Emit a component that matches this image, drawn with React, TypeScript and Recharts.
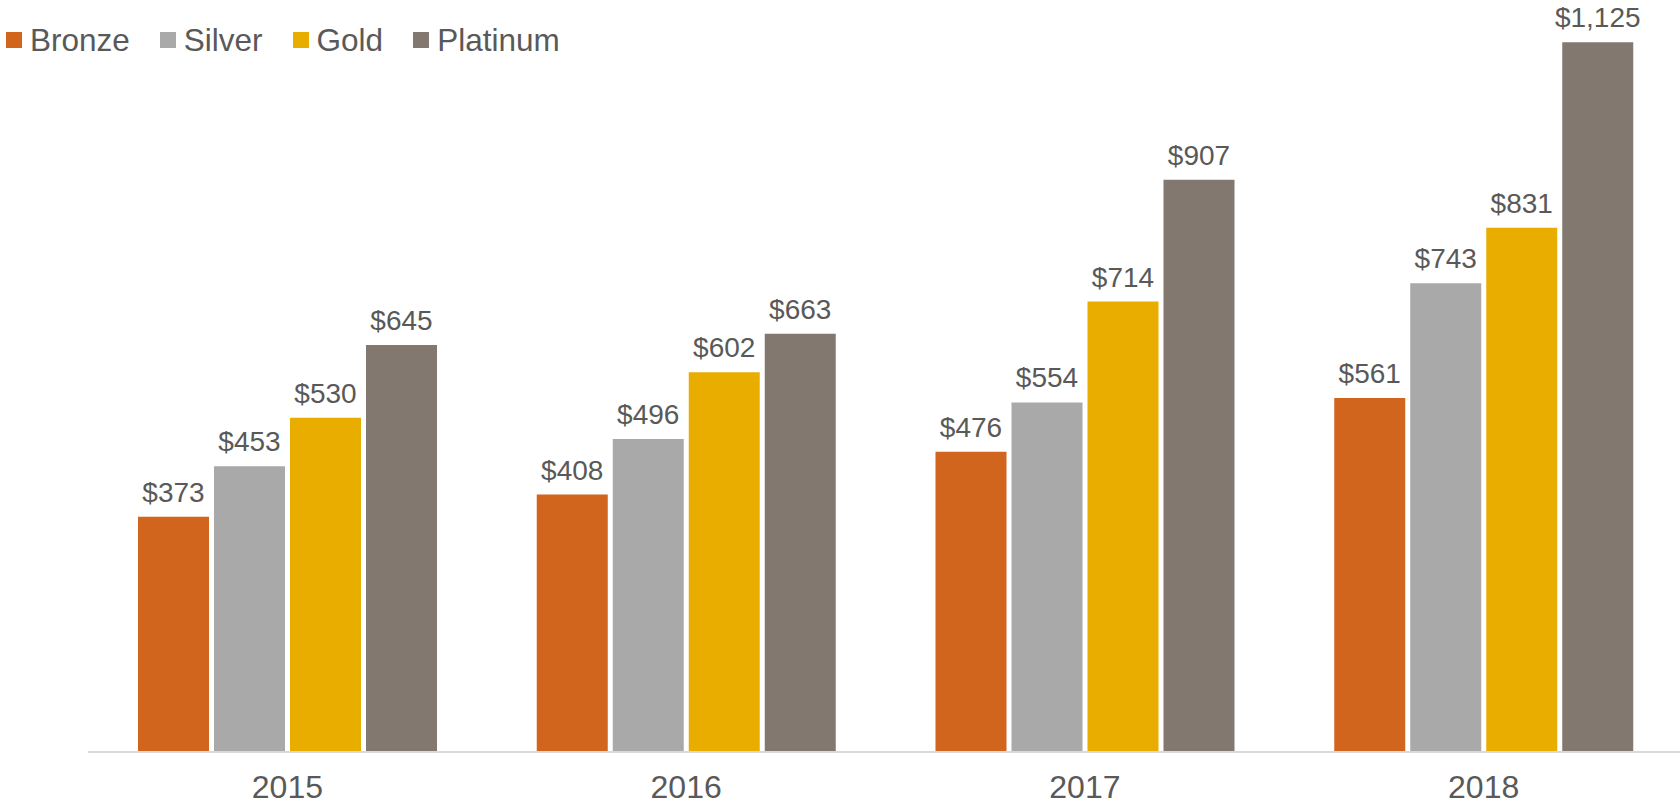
import React from "react"
import { BarChart, Bar, XAxis, YAxis, Legend, LabelList } from "recharts"

const years = ["2015", "2016", "2017", "2018"]
const bronze = [373, 408, 476, 561]
const silver = [453, 496, 554, 743]
const gold = [530, 602, 714, 831]
const platinum = [645, 663, 907, 1125]

const seriesNames = ["Bronze", "Silver", "Gold", "Platinum"]
const seriesColors = ["#D2651D", "#A9A9A9", "#E9AD00", "#82786F"]
const seriesKeys = ["bronze", "silver", "gold", "platinum"]

const data = years.map((year, i) => ({
  year,
  bronze: bronze[i],
  silver: silver[i],
  gold: gold[i],
  platinum: platinum[i],
}))

const FONT = "'Liberation Sans', Arial, sans-serif"
const TEXT = "#595959"

const fmt = (v: number) => `$${v.toLocaleString("en-US")}`

function YearTick({ x, y, payload }: any) {
  return (
    <text x={x} y={y} dy={46} textAnchor="middle" fill={TEXT} fontSize={32} fontFamily={FONT}>
      {payload.value}
    </text>
  )
}

function LegendContent() {
  return (
    <div style={{ display: "flex", alignItems: "center", fontFamily: FONT, fontSize: 31.5, color: TEXT, lineHeight: "36px" }}>
      {seriesNames.map((name, i) => (
        <div key={name} style={{ display: "flex", alignItems: "center", marginRight: 30 }}>
          <span style={{ width: 16, height: 16, background: seriesColors[i], marginRight: 8, display: "inline-block" }} />
          <span>{name}</span>
        </div>
      ))}
    </div>
  )
}

export default function App() {
  return (
    <div style={{ position: "absolute", left: 0, top: 0, width: 1680, height: 807, background: "#fff" }}>
      <BarChart
        width={1680}
        height={807}
        data={data}
        margin={{ top: 26.5, right: -3, left: 88, bottom: 0 }}
        barSize={71}
        barGap={5}
      >
        <XAxis
          dataKey="year"
          height={55}
          axisLine={{ stroke: "#D9D9D9", strokeWidth: 2 }}
          tickLine={false}
          tickSize={0}
          tickMargin={0}
          tick={<YearTick />}
          interval={0}
        />
        <YAxis hide domain={[0, 1150]} />
        <Legend
          layout="horizontal"
          verticalAlign="middle"
          align="center"
          wrapperStyle={{ top: 22, left: 6, width: "auto" }}
          content={<LegendContent />}
        />
        {seriesKeys.map((key, i) => (
          <Bar key={key} dataKey={key} name={seriesNames[i]} fill={seriesColors[i]} isAnimationActive={false}>
            <LabelList
              dataKey={key}
              position="top"
              offset={15}
              formatter={(v: any) => fmt(Number(v))}
              fill={TEXT}
              fontSize={28}
              fontFamily={FONT}
            />
          </Bar>
        ))}
      </BarChart>
    </div>
  )
}
